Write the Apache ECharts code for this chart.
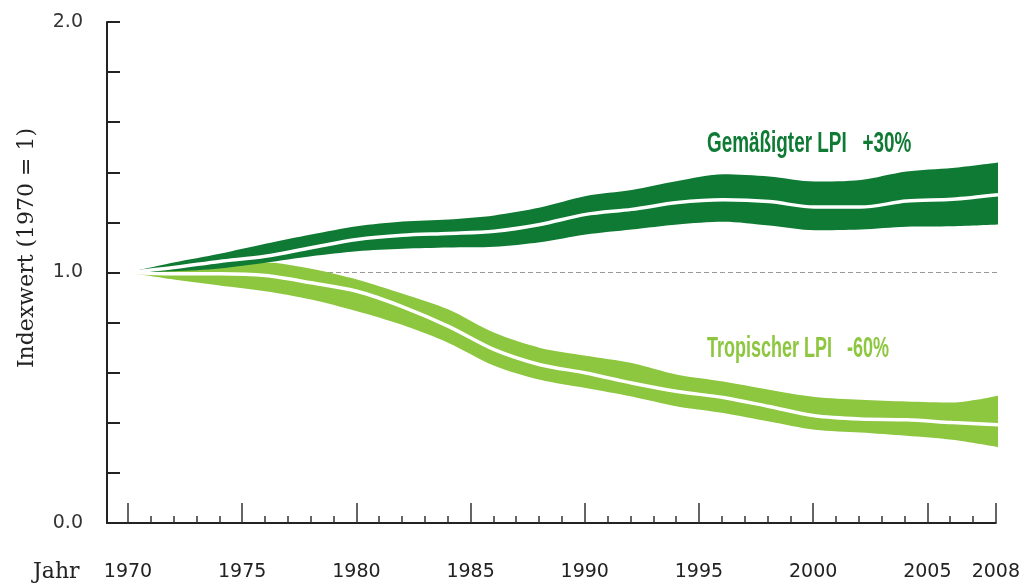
<!DOCTYPE html>
<html>
<head>
<meta charset="utf-8">
<script src="https://cdn.jsdelivr.net/npm/echarts@6/dist/echarts.min.js"></script>
<style>html,body{margin:0;padding:0;background:#fff}#c{width:1023px;height:583px}</style>
</head>
<body>
<div id="c"></div>
<script>
const years = ['1970','1972','1974','1976','1978','1980','1982','1984','1986','1988','1990','1992','1994','1996','1998','2000','2002','2004','2006','2008'];
const tempUpper = [1.0,1.04,1.075,1.115,1.152,1.185,1.204,1.212,1.228,1.259,1.305,1.329,1.365,1.392,1.383,1.363,1.369,1.403,1.417,1.439];
const tempMid   = [1.0,1.02,1.044,1.065,1.099,1.132,1.149,1.156,1.165,1.192,1.232,1.252,1.279,1.29,1.283,1.261,1.261,1.285,1.292,1.31];
const tempLower = [1.0,1.005,1.016,1.039,1.065,1.085,1.095,1.1,1.103,1.121,1.152,1.172,1.192,1.203,1.188,1.169,1.172,1.183,1.185,1.192];
const tropUpper = [1.0,1.02,1.035,1.04,1.015,0.972,0.915,0.852,0.759,0.699,0.668,0.639,0.592,0.565,0.532,0.503,0.492,0.485,0.481,0.508];
const tropMid   = [1.0,0.995,0.995,0.988,0.959,0.925,0.863,0.785,0.692,0.632,0.599,0.559,0.525,0.501,0.465,0.428,0.415,0.412,0.401,0.392];
const tropLower = [1.0,0.972,0.948,0.925,0.892,0.845,0.79,0.719,0.628,0.572,0.539,0.505,0.465,0.439,0.405,0.372,0.361,0.348,0.332,0.303];
const refValue = 1.0;
const minorTickYears = [];
for (let y = 1970; y <= 2008; y++) minorTickYears.push(y);
const majorTickYears = [1970,1975,1980,1985,1990,1995,2000,2005,2008];
const yLabelValues = [0,1,2];
const tempLabel = 'Gemäßigter LPI   +30%';
const tropLabel = 'Tropischer LPI   -60%';

const DARK = '#0f7a33';
const LIGHT = '#8dc63f';

function diff(a,b){ return a.map((v,i)=> +(v-b[i]).toFixed(4)); }

const chart = echarts.init(document.getElementById('c'), null, {renderer:'canvas'});
const smooth = 0.3;
const hiddenAxis = {axisLine:{show:false}, axisTick:{show:false}, axisLabel:{show:false}, splitLine:{show:false}};
chart.setOption({
  animation: false,
  backgroundColor: '#fff',
  grid: [
    {left:107, right:25, top:22, bottom:60},
    {left:128, right:25, top:22, bottom:60}
  ],
  xAxis: [{
    gridIndex:0, type:'value', min:1969.08, max:2008,
    axisLine:{show:true, lineStyle:{color:'#222', width:2}},
    axisTick:{show:true, inside:true, length:7, lineStyle:{color:'#333', width:1.5}, customValues: minorTickYears},
    axisLabel:{show:true, customValues: majorTickYears, formatter: v => String(Math.round(v)),
      fontFamily:'DejaVu Sans', fontSize:19, color:'#222', margin:40},
    splitLine:{show:false}
  },{
    gridIndex:0, type:'value', min:1969.08, max:2008, position:'bottom',
    axisLine:{show:false},
    axisTick:{show:true, inside:true, length:20, lineStyle:{color:'#333', width:1.5}, customValues: majorTickYears},
    axisLabel:{show:false},
    splitLine:{show:false}
  }, Object.assign({gridIndex:1, type:'category', data: years, boundaryGap:false}, hiddenAxis)],
  yAxis: [{
    gridIndex:0, type:'value', min:0, max:2, interval:0.2,
    axisLine:{show:true, lineStyle:{color:'#222', width:2}},
    axisTick:{show:true, inside:true, length:13, lineStyle:{color:'#222', width:2}},
    axisLabel:{customValues: yLabelValues, formatter: v => v.toFixed(1),
      fontFamily:'DejaVu Sans', fontSize:19, color:'#333', margin:24},
    splitLine:{show:false}
  }, Object.assign({gridIndex:1, type:'value', min:0, max:2}, hiddenAxis)],
  series: [
    {type:'line', xAxisIndex:2, yAxisIndex:1, data: years.map(()=>refValue), symbol:'none', z:1, silent:true,
      lineStyle:{color:'#999', width:1, type:[5,3]}},
    {type:'line', xAxisIndex:2, yAxisIndex:1, stack:'trop', data: tropLower, symbol:'none', smooth, z:2, silent:true,
      lineStyle:{opacity:0}},
    {type:'line', xAxisIndex:2, yAxisIndex:1, stack:'trop', data: diff(tropUpper, tropLower), symbol:'none', smooth, z:2, silent:true,
      lineStyle:{opacity:0}, areaStyle:{color:LIGHT, opacity:1}},
    {type:'line', xAxisIndex:2, yAxisIndex:1, data: tropMid, symbol:'none', smooth, z:3, silent:true,
      lineStyle:{color:'#fff', width:3.5}},
    {type:'line', xAxisIndex:2, yAxisIndex:1, stack:'temp', data: tempLower, symbol:'none', smooth, z:4, silent:true,
      lineStyle:{opacity:0}},
    {type:'line', xAxisIndex:2, yAxisIndex:1, stack:'temp', data: diff(tempUpper, tempLower), symbol:'none', smooth, z:4, silent:true,
      lineStyle:{opacity:0}, areaStyle:{color:DARK, opacity:1}},
    {type:'line', xAxisIndex:2, yAxisIndex:1, data: tempMid, symbol:'none', smooth, z:5, silent:true,
      lineStyle:{color:'#fff', width:3.5}}
  ],
  graphic: [
    {type:'text', x:707, y:144, scaleX:0.63, style:{text: tempLabel, fill:DARK,
      font:'bold 30px "Liberation Sans"', verticalAlign:'middle', align:'left'}},
    {type:'text', x:707, y:349, scaleX:0.6, style:{text: tropLabel, fill:LIGHT,
      font:'bold 30px "Liberation Sans"', verticalAlign:'middle', align:'left'}},
    {type:'text', x:27, y:248, rotation:Math.PI/2, style:{text:'Indexwert (1970 = 1)', fill:'#222',
      font:'22px "DejaVu Serif"', align:'center', verticalAlign:'middle'}},
    {type:'text', x:33, y:572, style:{text:'Jahr', fill:'#222',
      font:'22px "DejaVu Serif"', align:'left', verticalAlign:'middle'}}
  ]
});
</script>
</body>
</html>
